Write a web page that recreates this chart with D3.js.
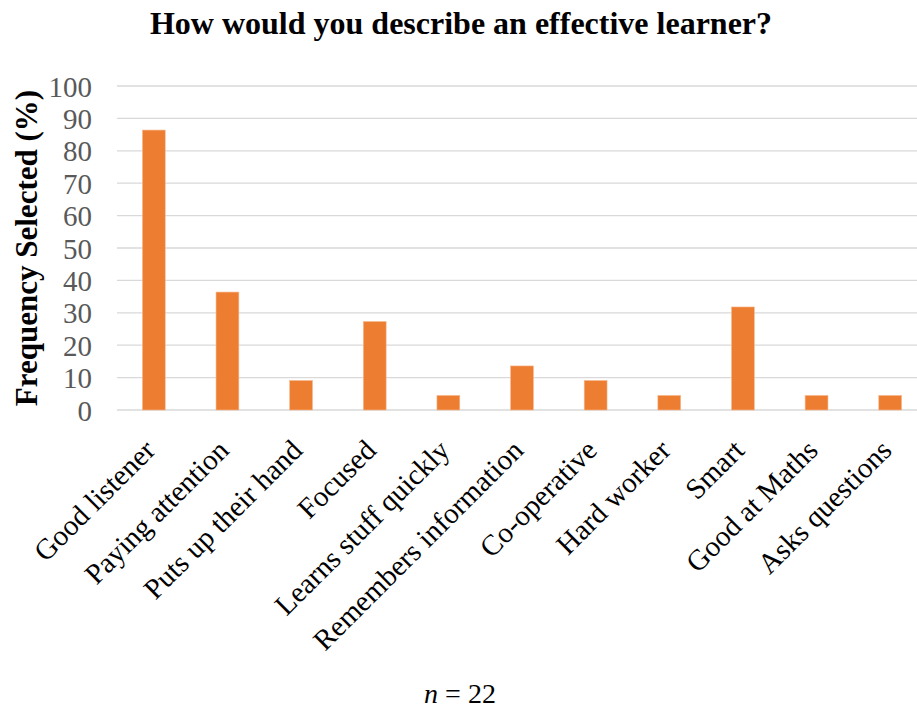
<!DOCTYPE html>
<html>
<head>
<meta charset="utf-8">
<script src="https://cdn.jsdelivr.net/npm/d3@7"></script>
<style>
  body { margin: 0; background: #fff; }
  text { font-family: "Liberation Serif", "Times New Roman", serif; }
</style>
</head>
<body>
<svg id="chart" width="917" height="709"></svg>
<script>
// Chart data
const categories = ['Good listener', 'Paying attention', 'Puts up their hand', 'Focused',
    'Learns stuff quickly', 'Remembers information', 'Co-operative', 'Hard worker',
    'Smart', 'Good at Maths', 'Asks questions'];
const frequency = [86.4, 36.4, 9.1, 27.3, 4.5, 13.6, 9.1, 4.5, 31.8, 4.5, 4.5];
const yTicks = [0, 10, 20, 30, 40, 50, 60, 70, 80, 90, 100];

const svg = d3.select('#chart');

const margin = { left: 117, right: -10, top: 86, bottom: 299 };
const width = 917, height = 709;

const x = d3.scaleBand()
    .domain(categories)
    .range([margin.left, width - margin.right])
    .paddingInner(0.69)
    .paddingOuter(0.345);

const y = d3.scaleLinear()
    .domain([0, 100])
    .range([height - margin.bottom, margin.top]);

// Gridlines
svg.append('g')
    .selectAll('line')
    .data(yTicks)
    .join('line')
    .attr('x1', margin.left)
    .attr('x2', width - margin.right)
    .attr('y1', d => y(d))
    .attr('y2', d => y(d))
    .attr('stroke', '#d9d9d9')
    .attr('stroke-width', 1.3);

// Y axis labels
const yAxis = svg.append('g')
    .attr('transform', `translate(${margin.left - 25},0)`)
    .call(d3.axisLeft(y).tickValues(yTicks).tickSize(0).tickPadding(0));
yAxis.select('.domain').remove();
yAxis.selectAll('text')
    .attr('font-family', '"Liberation Serif", serif')
    .attr('font-size', 29)
    .attr('fill', '#595959')
    .attr('dy', '0.35em');

// Bars
svg.append('g')
    .selectAll('rect')
    .data(frequency)
    .join('rect')
    .attr('x', (d, i) => x(categories[i]))
    .attr('y', d => y(d))
    .attr('width', x.bandwidth())
    .attr('height', d => y(0) - y(d))
    .attr('fill', '#ed7d31')
    .attr('stroke', '#f6b98f')
    .attr('stroke-width', 0.6);

// X axis labels
const xAxis = svg.append('g')
    .attr('transform', `translate(0,${y(0)})`)
    .call(d3.axisBottom(x).tickSize(0).tickPadding(0));
xAxis.select('.domain').remove();
xAxis.selectAll('text')
    .attr('font-family', '"Liberation Serif", serif')
    .attr('font-size', 29)
    .attr('fill', '#000')
    .attr('text-anchor', 'end')
    .attr('dy', null)
    .attr('y', 0)
    .attr('transform', 'translate(3,42) rotate(-45)');

// Title
svg.append('text')
    .attr('x', 461)
    .attr('y', 34)
    .attr('text-anchor', 'middle')
    .attr('font-size', 32)
    .attr('font-weight', 'bold')
    .text('How would you describe an effective learner?');

// Y axis title
svg.append('text')
    .attr('transform', `translate(37,${(y(0) + y(100)) / 2}) rotate(-90)`)
    .attr('text-anchor', 'middle')
    .attr('font-size', 31)
    .attr('font-weight', 'bold')
    .text('Frequency Selected (%)');

// Sample size note
const note = svg.append('text')
    .attr('x', 460)
    .attr('y', 703)
    .attr('text-anchor', 'middle')
    .attr('font-size', 28);
note.append('tspan').attr('font-style', 'italic').text('n');
note.append('tspan').text(' = 22');
</script>
</body>
</html>
